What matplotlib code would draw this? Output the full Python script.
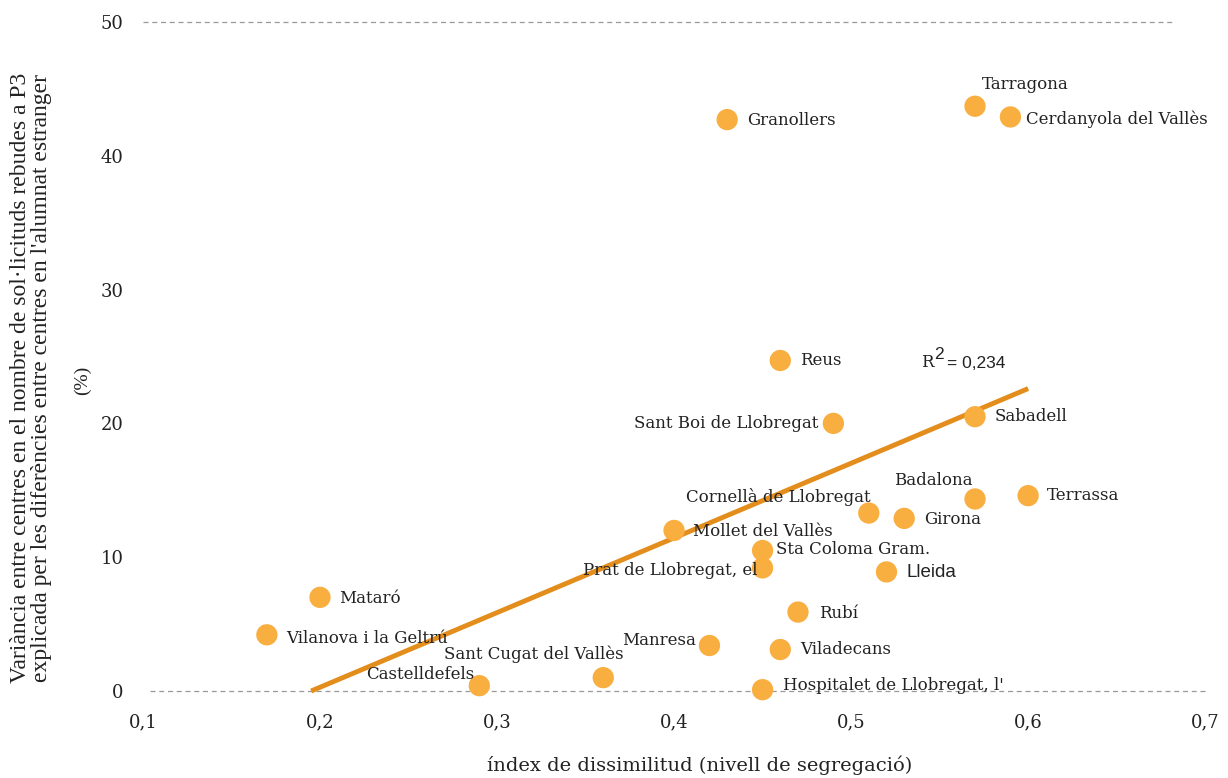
import numpy as np
import matplotlib.pyplot as plt

# data
cities = ["Tarragona", "Cerdanyola del Vallès", "Granollers", "Reus",
          "Sant Boi de Llobregat", "Sabadell", "Badalona", "Terrassa",
          "Cornellà de Llobregat", "Girona", "Mollet del Vallès",
          "Sta Coloma Gram.", "Prat de Llobregat, el", "Lleida", "Mataró",
          "Rubí", "Vilanova i la Geltrú", "Manresa", "Viladecans",
          "Sant Cugat del Vallès", "Castelldefels", "Hospitalet de Llobregat, l'"]
dissim = [0.57, 0.59, 0.43, 0.46, 0.49, 0.57, 0.57, 0.60, 0.51, 0.53, 0.40,
          0.45, 0.45, 0.52, 0.20, 0.47, 0.17, 0.42, 0.46, 0.36, 0.29, 0.45]
variancia = [43.7, 42.9, 42.7, 24.7, 20.0, 20.5, 14.35, 14.6, 13.3, 12.9, 12.0,
             10.5, 9.2, 8.9, 7.0, 5.9, 4.2, 3.4, 3.1, 1.0, 0.4, 0.1]

trend_x = [0.195, 0.60]
trend_y = [0.0, 22.6]
r2_value = "= 0,234"

xticks = [0.1, 0.2, 0.3, 0.4, 0.5, 0.6, 0.7]
yticks = [0, 10, 20, 30, 40, 50]

# label placement: (ha, dx px, dy px)
place = {
    "Tarragona": ("left", 7, 22),
    "Cerdanyola del Vallès": ("left", 16, -2),
    "Granollers": ("left", 20, -1),
    "Reus": ("left", 20, 0),
    "Sant Boi de Llobregat": ("right", -15, 0),
    "Sabadell": ("left", 20, 0),
    "Badalona": ("right", -2, 18),
    "Terrassa": ("left", 19, 0),
    "Cornellà de Llobregat": ("right", 2, 16),
    "Girona": ("left", 20, -1),
    "Mollet del Vallès": ("left", 19, -1),
    "Sta Coloma Gram.": ("left", 13, 1),
    "Prat de Llobregat, el": ("right", -5, -3),
    "Lleida": ("left", 20, -1),
    "Mataró": ("left", 19, -1),
    "Rubí": ("left", 21, -1),
    "Vilanova i la Geltrú": ("left", 19, -4),
    "Manresa": ("right", -13, 5),
    "Viladecans": ("left", 20, 0),
    "Sant Cugat del Vallès": ("right", 20, 23),
    "Castelldefels": ("right", -5, 11),
    "Hospitalet de Llobregat, l'": ("left", 20, 4),
}

ink = "#222222"
fig = plt.figure(figsize=(12.28, 7.78), dpi=100)
ax = fig.add_axes([0.1164, 0.1118, 0.865, 0.860])

ax.hlines(50, 0.1, 0.682, colors="#999999", linestyles=(0, (4, 3)), linewidth=0.9, zorder=1, clip_on=False)
ax.hlines(0, 0.104, 0.7, colors="#999999", linestyles=(0, (4, 3)), linewidth=0.9, zorder=1, clip_on=False)
ax.plot(trend_x, trend_y, color="#E38D1C", linewidth=3.5, zorder=2, solid_capstyle="butt", clip_on=False)
ax.scatter(dissim, variancia, s=235, color="#F9AE40", edgecolors="none", zorder=3, clip_on=False)

for name, x, y in zip(cities, dissim, variancia):
    ha, dx, dy = place[name]
    if name == "Lleida":
        fam, fs = "Liberation Sans", 13.5
    else:
        fam, fs = "DejaVu Serif", 12
    ax.annotate(name, (x, y), xytext=(dx, dy), textcoords="offset pixels",
                ha=ha, va="center", fontsize=fs, family=fam, color=ink, zorder=4)

# R squared note
ax.text(0.733, 0.491, "R", transform=ax.transAxes, ha="left", va="center",
        fontsize=12, family="DejaVu Serif", color=ink)
ax.text(0.745, 0.503, "2", transform=ax.transAxes, ha="left", va="center",
        fontsize=12.5, family="Liberation Sans", color=ink)
ax.text(0.757, 0.490, r2_value, transform=ax.transAxes, ha="left", va="center",
        fontsize=12.5, family="Liberation Sans", color=ink)

ax.set_xlim(0.1, 0.7)
ax.set_ylim(0, 50)
ax.set_xticks(xticks)
ax.set_xticklabels([f"{v:.1f}".replace(".", ",") for v in xticks], family="DejaVu Serif", fontsize=13)
ax.set_yticks(yticks)
ax.set_yticklabels([str(v) for v in yticks], family="DejaVu Serif", fontsize=13)
ax.tick_params(axis="x", length=0, pad=16, colors=ink)
ax.tick_params(axis="y", length=0, pad=14, colors=ink)
for s in ax.spines.values():
    s.set_visible(False)

fig.text(0.570, 0.017, "índex de dissimilitud (nivell de segregació)", family="DejaVu Serif",
         fontsize=14, color=ink, ha="center", va="center")
fig.text(0.025, 0.514, "Variància entre centres en el nombre de sol·licituds rebudes a P3\n"
         "explicada per les diferències entre centres en l'alumnat estranger",
         rotation=90, ha="center", va="center", family="Liberation Serif", fontsize=17,
         linespacing=1.0, color=ink)
fig.text(0.067, 0.511, "(%)", rotation=90, ha="center", va="center",
         family="Liberation Serif", fontsize=14, color=ink)

fig.savefig("out.png", dpi=100)
